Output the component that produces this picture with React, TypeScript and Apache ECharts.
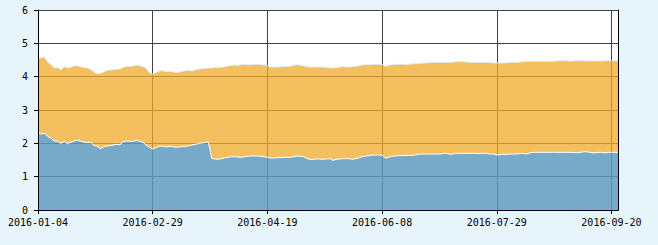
import React, { useEffect, useRef } from "react";
import * as echarts from "echarts";

const tradingDays: string[] = [
  "2016-01-04","2016-01-05","2016-01-06","2016-01-07","2016-01-08","2016-01-11","2016-01-12","2016-01-13","2016-01-14","2016-01-15",
  "2016-01-18","2016-01-19","2016-01-20","2016-01-21","2016-01-22","2016-01-25","2016-01-26","2016-01-27","2016-01-28","2016-01-29",
  "2016-02-01","2016-02-02","2016-02-03","2016-02-04","2016-02-05","2016-02-15","2016-02-16","2016-02-17","2016-02-18","2016-02-19",
  "2016-02-22","2016-02-23","2016-02-24","2016-02-25","2016-02-26","2016-02-29",
  "2016-03-01","2016-03-02","2016-03-03","2016-03-04","2016-03-07","2016-03-08","2016-03-09","2016-03-10","2016-03-11",
  "2016-03-14","2016-03-15","2016-03-16","2016-03-17","2016-03-18","2016-03-21","2016-03-22","2016-03-23","2016-03-24","2016-03-25",
  "2016-03-28","2016-03-29","2016-03-30","2016-03-31",
  "2016-04-01","2016-04-05","2016-04-06","2016-04-07","2016-04-08","2016-04-11","2016-04-12","2016-04-13","2016-04-14","2016-04-15",
  "2016-04-18","2016-04-19","2016-04-20","2016-04-21","2016-04-22","2016-04-25","2016-04-26","2016-04-27","2016-04-28","2016-04-29",
  "2016-05-03","2016-05-04","2016-05-05","2016-05-06","2016-05-09","2016-05-10","2016-05-11","2016-05-12","2016-05-13",
  "2016-05-16","2016-05-17","2016-05-18","2016-05-19","2016-05-20","2016-05-23","2016-05-24","2016-05-25","2016-05-26","2016-05-27",
  "2016-05-30","2016-05-31",
  "2016-06-01","2016-06-02","2016-06-03","2016-06-06","2016-06-07","2016-06-08","2016-06-13","2016-06-14","2016-06-15","2016-06-16",
  "2016-06-17","2016-06-20","2016-06-21","2016-06-22","2016-06-23","2016-06-24","2016-06-27","2016-06-28","2016-06-29","2016-06-30",
  "2016-07-01","2016-07-04","2016-07-05","2016-07-06","2016-07-07","2016-07-08","2016-07-11","2016-07-12","2016-07-13","2016-07-14",
  "2016-07-15","2016-07-18","2016-07-19","2016-07-20","2016-07-21","2016-07-22","2016-07-25","2016-07-26","2016-07-27","2016-07-28",
  "2016-07-29",
  "2016-08-01","2016-08-02","2016-08-03","2016-08-04","2016-08-05","2016-08-08","2016-08-09","2016-08-10","2016-08-11","2016-08-12",
  "2016-08-15","2016-08-16","2016-08-17","2016-08-18","2016-08-19","2016-08-22","2016-08-23","2016-08-24","2016-08-25","2016-08-26",
  "2016-08-29","2016-08-30","2016-08-31",
  "2016-09-01","2016-09-02","2016-09-05","2016-09-06","2016-09-07","2016-09-08","2016-09-09","2016-09-12","2016-09-13","2016-09-14",
  "2016-09-19","2016-09-20","2016-09-21","2016-09-22",
];

// upper edge of the stack (total)
const totalValues: number[] = [
  4.53,4.57,4.59,4.43,4.36,4.26,4.27,4.21,4.30,4.27,
  4.28,4.32,4.33,4.30,4.27,4.26,4.22,4.15,4.09,4.10,
  4.14,4.19,4.20,4.21,4.22,4.23,4.28,4.30,4.31,4.32,
  4.34,4.33,4.30,4.25,4.12,4.08,4.13,4.17,4.18,4.15,
  4.16,4.15,4.13,4.13,4.16,4.18,4.19,4.17,4.21,4.23,
  4.24,4.25,4.26,4.26,4.27,4.27,4.28,4.30,4.32,4.34,
  4.35,4.34,4.36,4.37,4.36,4.36,4.37,4.37,4.36,4.35,
  4.33,4.29,4.29,4.29,4.30,4.30,4.31,4.31,4.34,4.36,
  4.35,4.33,4.30,4.29,4.29,4.29,4.29,4.29,4.28,4.27,
  4.26,4.27,4.29,4.30,4.29,4.29,4.30,4.31,4.33,4.35,
  4.36,4.36,4.37,4.37,4.37,4.37,4.31,4.34,4.36,4.37,
  4.37,4.38,4.37,4.37,4.38,4.39,4.39,4.41,4.41,4.42,
  4.43,4.43,4.43,4.43,4.43,4.43,4.43,4.44,4.45,4.45,
  4.45,4.44,4.43,4.43,4.43,4.43,4.43,4.43,4.42,4.41,
  4.41,4.41,4.41,4.42,4.43,4.43,4.43,4.44,4.45,4.45,
  4.46,4.46,4.46,4.46,4.46,4.46,4.46,4.46,4.47,4.48,
  4.48,4.48,4.47,4.47,4.48,4.48,4.48,4.47,4.47,4.47,
  4.47,4.47,4.47,4.48,4.48,4.48,4.48,4.48,
];

// lower (blue) series
const lowerValues: number[] = [
  2.30,2.28,2.30,2.21,2.15,2.07,2.06,2.00,2.06,1.99,
  2.03,2.07,2.10,2.06,2.04,2.02,2.04,1.94,1.92,1.84,
  1.89,1.92,1.93,1.95,1.97,1.96,2.05,2.07,2.06,2.06,
  2.10,2.06,2.03,1.95,1.88,1.83,1.87,1.91,1.92,1.89,
  1.91,1.90,1.88,1.89,1.90,1.90,1.93,1.95,1.97,1.99,
  2.01,2.03,2.04,1.55,1.53,1.52,1.54,1.57,1.58,1.60,
  1.60,1.59,1.58,1.60,1.61,1.62,1.62,1.62,1.61,1.60,
  1.58,1.56,1.56,1.57,1.57,1.58,1.58,1.58,1.60,1.62,
  1.61,1.60,1.55,1.52,1.52,1.53,1.53,1.52,1.53,1.54,
  1.49,1.52,1.53,1.54,1.54,1.54,1.52,1.54,1.57,1.60,
  1.62,1.63,1.65,1.65,1.65,1.65,1.56,1.58,1.61,1.62,
  1.63,1.63,1.64,1.64,1.64,1.65,1.67,1.68,1.68,1.68,
  1.68,1.68,1.68,1.68,1.70,1.69,1.67,1.69,1.70,1.70,
  1.70,1.70,1.70,1.70,1.69,1.70,1.70,1.70,1.68,1.68,
  1.65,1.66,1.67,1.67,1.68,1.68,1.68,1.69,1.70,1.68,
  1.71,1.73,1.73,1.73,1.73,1.73,1.73,1.73,1.73,1.73,
  1.73,1.73,1.73,1.73,1.72,1.72,1.74,1.75,1.74,1.72,
  1.71,1.73,1.73,1.71,1.73,1.73,1.73,1.73,
];

const yTicks = [0, 1, 2, 3, 4, 5, 6];
const LABEL_STEP = 34;

export default function App() {
  const ref = useRef<HTMLDivElement>(null);
  useEffect(() => {
    if (!ref.current) return;
    const chart = echarts.init(ref.current, undefined, { renderer: "svg" });
    const upperBand = totalValues.map((t, i) => +(t - lowerValues[i]).toFixed(2));
    const font = { fontFamily: "DejaVu Sans Mono", fontSize: 10, color: "#000" };
    chart.setOption({
      animation: false,
      backgroundColor: "#e8f4fc",
      grid: {
        left: 38,
        right: 40,
        top: 10,
        bottom: 35,
        show: true,
        backgroundColor: "#fff",
        borderWidth: 0,
      },
      xAxis: [
        {
          type: "category",
          data: tradingDays,
          boundaryGap: false,
          position: "bottom",
          z: 0,
          axisLine: { show: false },
          axisTick: { show: false },
          axisLabel: { show: false },
          splitLine: { show: true, interval: LABEL_STEP, lineStyle: { color: "#404040", width: 1 } },
        },
        {
          type: "category",
          data: tradingDays,
          boundaryGap: false,
          position: "bottom",
          z: 10,
          axisLine: { show: true, lineStyle: { color: "#000", width: 1 } },
          axisTick: { show: true, interval: LABEL_STEP, length: 4, lineStyle: { color: "#000" } },
          axisLabel: { show: true, interval: LABEL_STEP, margin: 7, ...font },
          splitLine: { show: false },
        },
        {
          type: "category",
          data: tradingDays,
          boundaryGap: false,
          position: "top",
          z: 10,
          axisLine: { show: true, lineStyle: { color: "#000", width: 1 } },
          axisTick: { show: false },
          axisLabel: { show: false },
          splitLine: { show: false },
        },
      ],
      yAxis: [
        {
          type: "value",
          min: yTicks[0],
          max: yTicks[yTicks.length - 1],
          interval: 1,
          z: 0,
          axisLine: { show: false },
          axisTick: { show: false },
          axisLabel: { show: false },
          splitLine: { show: true, lineStyle: { color: "#404040", width: 1 } },
        },
        {
          type: "value",
          min: yTicks[0],
          max: yTicks[yTicks.length - 1],
          interval: 1,
          position: "left",
          z: 10,
          axisLine: { show: true, lineStyle: { color: "#000", width: 1 } },
          axisTick: { show: true, length: 4, lineStyle: { color: "#000" } },
          axisLabel: { show: true, margin: 10, ...font },
          splitLine: { show: false },
        },
        {
          type: "value",
          min: yTicks[0],
          max: yTicks[yTicks.length - 1],
          interval: 1,
          position: "right",
          z: 10,
          axisLine: { show: true, lineStyle: { color: "#000", width: 1 } },
          axisTick: { show: false },
          axisLabel: { show: false },
          splitLine: { show: false },
        },
      ],
      series: [
        {
          name: "lower",
          type: "line",
          stack: "total",
          xAxisIndex: 0,
          yAxisIndex: 0,
          data: lowerValues,
          symbol: "none",
          lineStyle: { color: "#ffffff", width: 1 },
          areaStyle: { color: "#5e9bbe", opacity: 0.85 },
          z: 2,
        },
        {
          name: "upper",
          type: "line",
          stack: "total",
          xAxisIndex: 0,
          yAxisIndex: 0,
          data: upperBand,
          symbol: "none",
          lineStyle: { color: "#dcedf8", width: 1 },
          areaStyle: { color: "#f0ab2a", opacity: 0.75 },
          z: 2,
        },
      ],
    });
    return () => chart.dispose();
  }, []);
  return (
    <div
      ref={ref}
      style={{ position: "fixed", left: 0, top: 0, width: 658, height: 245 }}
    />
  );
}
